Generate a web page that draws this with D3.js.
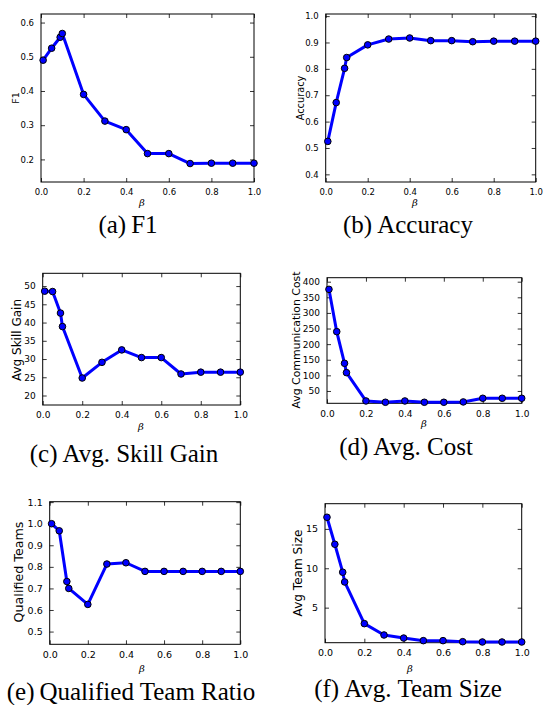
<!DOCTYPE html>
<html><head><meta charset="utf-8">
<script src="https://cdn.jsdelivr.net/npm/d3@7"></script>
<style>body{margin:0;background:#fff}svg{display:block}</style>
</head><body>
<svg id="c" width="543" height="705"></svg>
<script>
const beta = [0.01, 0.05, 0.09, 0.1, 0.2, 0.3, 0.4, 0.5, 0.6, 0.7, 0.8, 0.9, 1.0];
const f1 = [0.49, 0.525, 0.557, 0.568, 0.390, 0.312, 0.287, 0.217, 0.217, 0.188, 0.189, 0.189, 0.189];
const accuracy = [0.525, 0.672, 0.802, 0.843, 0.891, 0.913, 0.917, 0.907, 0.907, 0.903, 0.905, 0.905, 0.905];
const skillGain = [48.6, 48.5, 42.6, 38.9, 24.8, 29.1, 32.5, 30.4, 30.4, 25.9, 26.4, 26.4, 26.4];
const commCost = [375.5, 240, 138.6, 108.7, 18, 13.8, 18, 13.8, 13.8, 14.9, 26.6, 26.6, 26.6];
const qualified = [1.0, 0.967, 0.732, 0.70, 0.626, 0.813, 0.819, 0.779, 0.779, 0.779, 0.779, 0.779, 0.779];
const teamSize = [16.48, 13.05, 9.5, 8.26, 2.97, 1.53, 1.14, 0.81, 0.81, 0.68, 0.64, 0.64, 0.64];
const xTicks = [0, 0.2, 0.4, 0.6, 0.8, 1.0];
const yTicksF1 = [0.2, 0.3, 0.4, 0.5, 0.6];
const yTicksAcc = [0.4, 0.5, 0.6, 0.7, 0.8, 0.9, 1.0];
const yTicksSkill = [20, 25, 30, 35, 40, 45, 50];
const yTicksCost = [50, 100, 150, 200, 250, 300, 350, 400];
const yTicksQual = [0.5, 0.6, 0.7, 0.8, 0.9, 1.0, 1.1];
const yTicksSize = [5, 10, 15];
const yLabels = ["F1", "Accuracy", "Avg Skill Gain", "Avg Communication Cost", "Qualified Teams", "Avg Team Size"];
const capTags = ["(a)", "(b)", "(c)", "(d)", "(e)", "(f)"];
const captions = ["F1", "Accuracy", "Avg. Skill Gain", "Avg. Cost", "Qualified Team Ratio", "Avg. Team Size"];

const panels = [
  {v: f1, yt: yTicksF1, fmt: ".1f", ydom: [0.134, 0.625], box: [41, 254, 14, 182], fs: 8.5, lfs: 9.5, lx: 16, ly: 98, bx: 142, by: 206, cx: 128, cy: 233},
  {v: accuracy, yt: yTicksAcc, fmt: ".1f", ydom: [0.371, 1.008], box: [325.7, 535.7, 14, 182], fs: 8.5, lfs: 9.8, lx: 301, ly: 98, bx: 415, by: 206, cx: 408, cy: 233},
  {v: skillGain, yt: yTicksSkill, fmt: "d", ydom: [17.4, 53.5], box: [42.7, 240.3, 273.3, 405], fs: 9, lfs: 12, lx: 17, ly: 340, bx: 141, by: 430, cx: 124, cy: 462},
  {v: commCost, yt: yTicksCost, fmt: "d", ydom: [10.5, 412.8], box: [327, 521.7, 277.7, 403.3], fs: 9, lfs: 10.9, lx: 297, ly: 340, bx: 424, by: 427, cx: 406, cy: 455},
  {v: qualified, yt: yTicksQual, fmt: ".1f", ydom: [0.441, 1.102], box: [49.7, 240.3, 501.7, 644.3], fs: 9.5, lfs: 12.7, lx: 19, ly: 572, bx: 142, by: 672, cx: 131, cy: 700},
  {v: teamSize, yt: yTicksSize, fmt: "d", ydom: [0.55, 18.2], box: [325, 521.7, 503.7, 642.7], fs: 9.5, lfs: 12.1, lx: 298, ly: 573, bx: 410, by: 672, cx: 408, cy: 697}
];

const svg = d3.select("#c");
panels.forEach((p, i) => {
  const [L, R, T, B] = p.box;
  const x = d3.scaleLinear().domain([0, 1]).range([L, R]);
  const y = d3.scaleLinear().domain(p.ydom).range([B, T]);
  const g = svg.append("g");
  const tl = 4;
  const ax = g.append("g").attr("transform", `translate(0,${B})`)
    .call(d3.axisBottom(x).tickValues(xTicks).tickFormat(d3.format(".1f")).tickSizeInner(-tl).tickSizeOuter(0).tickPadding(tl + 3));
  const at = g.append("g").attr("transform", `translate(0,${T})`)
    .call(d3.axisTop(x).tickValues(xTicks).tickFormat("").tickSizeInner(-tl).tickSizeOuter(0));
  const ay = g.append("g").attr("transform", `translate(${L},0)`)
    .call(d3.axisLeft(y).tickValues(p.yt).tickFormat(d3.format(p.fmt)).tickSizeInner(-tl).tickSizeOuter(0).tickPadding(tl + 3));
  const ar = g.append("g").attr("transform", `translate(${R},0)`)
    .call(d3.axisRight(y).tickValues(p.yt).tickFormat("").tickSizeInner(-tl).tickSizeOuter(0));
  [ax, at, ay, ar].forEach(a => {
    a.select(".domain").remove();
    a.selectAll("line").attr("stroke", "#000").attr("stroke-width", 0.8);
    a.selectAll("text").attr("font-family", "DejaVu Sans").attr("font-size", p.fs).attr("fill", "#000");
  });
  g.append("rect").attr("x", L).attr("y", T).attr("width", R - L).attr("height", B - T)
    .attr("fill", "none").attr("stroke", "#000").attr("stroke-width", 1);
  const data = beta.map((b, k) => [b, p.v[k]]);
  g.append("path").datum(data)
    .attr("d", d3.line().x(d => x(d[0])).y(d => y(d[1])))
    .attr("fill", "none").attr("stroke", "#0000ff").attr("stroke-width", 3).attr("stroke-linejoin", "round");
  g.selectAll("circle.pt").data(data).join("circle").attr("class", "pt")
    .attr("cx", d => x(d[0])).attr("cy", d => y(d[1])).attr("r", 3.3)
    .attr("fill", "#0000ff").attr("stroke", "#000").attr("stroke-width", 1);
  g.append("text").attr("transform", `translate(${p.lx},${p.ly}) rotate(-90)`)
    .attr("text-anchor", "middle").attr("dominant-baseline", "middle")
    .attr("font-family", "DejaVu Sans").attr("font-size", p.lfs).text(yLabels[i]);
  g.append("text").attr("x", p.bx).attr("y", p.by).attr("text-anchor", "middle")
    .attr("font-family", "DejaVu Serif").attr("font-style", "italic").attr("font-size", 10).text("β");
  const ct = g.append("text").attr("x", p.cx).attr("y", p.cy).attr("text-anchor", "middle")
    .attr("font-family", "Liberation Serif").attr("font-size", 25);
  ct.append("tspan").text(capTags[i]);
  ct.append("tspan").attr("dx", 5).text(captions[i]);
});
</script>
</body></html>
